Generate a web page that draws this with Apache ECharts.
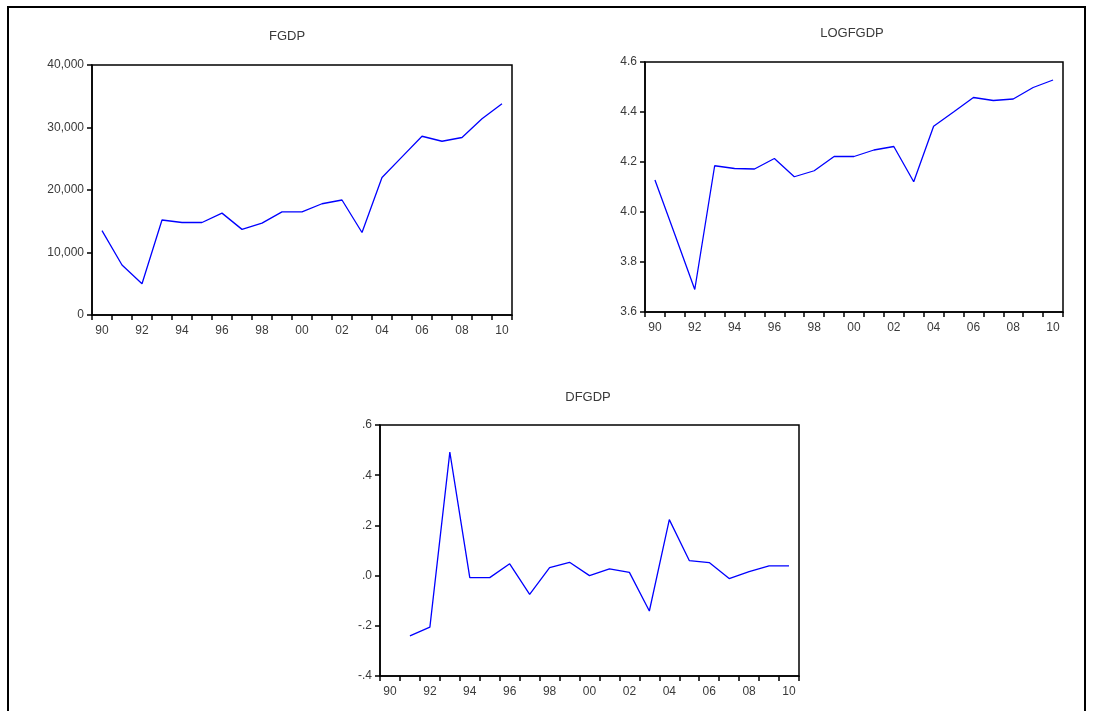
<!DOCTYPE html>
<html>
<head>
<meta charset="utf-8">
<script src="https://cdn.jsdelivr.net/npm/echarts@6/dist/echarts.min.js"></script>
<style>
html,body{margin:0;padding:0;background:#fff;}
#c{width:1101px;height:711px;}
</style>
</head>
<body>
<div id="c"></div>
<script>
// Categories: years 1990..2010, shown as two-digit labels
var years = ['90','91','92','93','94','95','96','97','98','99','00','01','02','03','04','05','06','07','08','09','10'];

// FGDP levels
var fgdp = [13500, 8000, 5000, 15200, 14800, 14800, 16300, 13700, 14700, 16500, 16500, 17800, 18400, 13200, 22000, 25300, 28600, 27800, 28400, 31400, 33800];

// LOGFGDP
var logfgdp = [4.128, 3.91, 3.69, 4.185, 4.174, 4.172, 4.214, 4.141, 4.165, 4.222, 4.222, 4.248, 4.262, 4.121, 4.343, 4.400, 4.458, 4.446, 4.452, 4.498, 4.528];

// DFGDP (first difference, starts 1991)
var dfgdp = [null, -0.24, -0.205, 0.492, -0.008, -0.008, 0.047, -0.075, 0.032, 0.053, 0.0, 0.027, 0.013, -0.141, 0.223, 0.06, 0.052, -0.012, 0.016, 0.039, 0.039];

// Tick labels
var fgdpTicks = ['0','10,000','20,000','30,000','40,000'];
var logTicks = ['3.6','3.8','4.0','4.2','4.4','4.6'];
var dTicks = ['-.4','-.2','.0','.2','.4','.6'];

var chart = echarts.init(document.getElementById('c'), null, {renderer:'canvas'});

var textColor = '#3a3a3a';
var font = 'Liberation Sans, Arial, sans-serif';

function xAxis(gi){
  return {
    type:'category', gridIndex:gi, data:years, boundaryGap:true,
    axisLine:{show:true, onZero:false, lineStyle:{color:'#000', width:1.5}},
    axisTick:{show:true, inside:false, length:5, interval:0, lineStyle:{color:'#000', width:1.5}},
    axisLabel:{interval:1, color:textColor, fontSize:12, fontFamily:font, margin:10},
    splitLine:{show:false}
  };
}
function yAxis(gi, min, max, interval, ticks){
  return {
    type:'value', gridIndex:gi, min:min, max:max, interval:interval,
    axisLine:{show:true, lineStyle:{color:'#000', width:1.5}},
    axisTick:{show:true, inside:false, length:5, lineStyle:{color:'#000', width:1.5}},
    axisLabel:{color:textColor, fontSize:12, fontFamily:font, margin:8,
      formatter:function(v){ var i = Math.round((v-min)/interval); return ticks[i] || ''; }},
    splitLine:{show:false}
  };
}

var titleStyle = {fontSize:13, fontWeight:'normal', color:textColor, fontFamily:font};

var option = {
  animation:false,
  backgroundColor:'#fff',
  title:[
    {text:'FGDP', left:282, top:25, textAlign:'center', textStyle:titleStyle},
    {text:'LOGFGDP', left:847, top:22, textAlign:'center', textStyle:titleStyle},
    {text:'DFGDP', left:583, top:386, textAlign:'center', textStyle:titleStyle}
  ],
  grid:[
    {left:92, top:65, width:420, height:250, show:true, borderColor:'#000', borderWidth:1.5, containLabel:false},
    {left:645, top:62, width:418, height:250, show:true, borderColor:'#000', borderWidth:1.5, containLabel:false},
    {left:380, top:425, width:419, height:251, show:true, borderColor:'#000', borderWidth:1.5, containLabel:false}
  ],
  xAxis:[xAxis(0), xAxis(1), xAxis(2)],
  yAxis:[
    yAxis(0, 0, 40000, 10000, fgdpTicks),
    yAxis(1, 3.6, 4.6, 0.2, logTicks),
    yAxis(2, -0.4, 0.6, 0.2, dTicks)
  ],
  series:[
    {type:'line', xAxisIndex:0, yAxisIndex:0, data:fgdp, showSymbol:false, symbol:'none', lineStyle:{color:'#0000ff', width:1.3}},
    {type:'line', xAxisIndex:1, yAxisIndex:1, data:logfgdp, showSymbol:false, symbol:'none', lineStyle:{color:'#0000ff', width:1.3}},
    {type:'line', xAxisIndex:2, yAxisIndex:2, data:dfgdp, showSymbol:false, symbol:'none', connectNulls:false, lineStyle:{color:'#0000ff', width:1.3}}
  ],
  graphic:[
    {type:'rect', silent:true, shape:{x:8, y:7, width:1077, height:730}, style:{fill:'none', stroke:'#000', lineWidth:2}}
  ]
};
chart.setOption(option);
</script>
</body>
</html>
